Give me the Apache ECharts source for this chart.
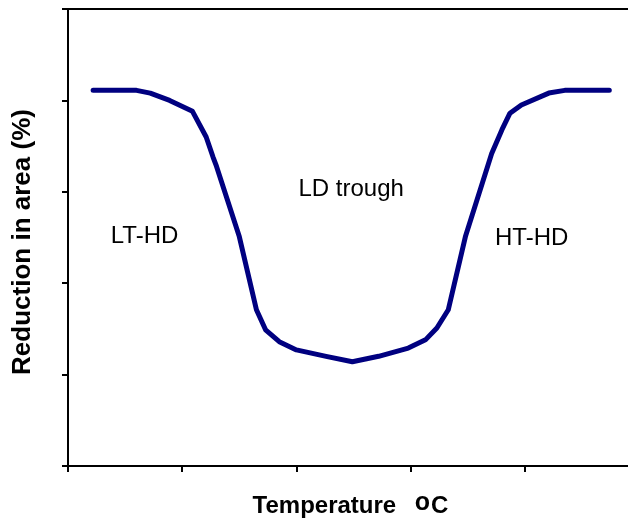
<!DOCTYPE html>
<html>
<head>
<meta charset="utf-8">
<script src="https://cdn.jsdelivr.net/npm/echarts@6/dist/echarts.min.js"></script>
<style>
  html, body { margin: 0; padding: 0; background: #fff; }
  #chart { width: 628px; height: 523px; }
</style>
</head>
<body>
<div id="chart"></div>
<script>
// Reduction in area versus temperature: ductility curve with a low-ductility trough
const temperature = [0.22, 0.60, 0.72, 0.89, 1.09, 1.21, 1.27, 1.30, 1.50, 1.65, 1.73, 1.85, 2.00, 2.26, 2.49,
                     2.72, 2.98, 3.13, 3.23, 3.33, 3.48, 3.71, 3.80, 3.87, 3.97, 4.21, 4.35, 4.74];
const reduction   = [4.11, 4.11, 4.08, 4.00, 3.88, 3.60, 3.38, 3.28, 2.51, 1.71, 1.49, 1.36, 1.27, 1.20, 1.14,
                     1.20, 1.29, 1.38, 1.51, 1.71, 2.51, 3.42, 3.68, 3.86, 3.95, 4.08, 4.11, 4.11];

// Region labels placed in data coordinates
const regionNames = ['LT-HD', 'LD trough', 'HT-HD'];
const regionX = [0.67, 2.48, 4.06];
const regionY = [2.51, 3.03, 2.49];

const FONT = '"Liberation Sans", Arial, Helvetica, sans-serif';

const chart = echarts.init(document.getElementById('chart'), null, { renderer: 'canvas' });

const axisCommon = {
  type: 'value',
  min: 0,
  max: 5,
  interval: 1,
  axisLine: { show: true, onZero: false, lineStyle: { color: '#000', width: 2 } },
  axisTick: { show: true, inside: false, length: 6, lineStyle: { color: '#000', width: 2 } },
  axisLabel: { show: false },
  splitLine: { show: false }
};

chart.setOption({
  animation: false,
  backgroundColor: '#fff',
  // plot area runs past the right edge of the canvas
  grid: {
    left: 68, top: 9, width: 571, bottom: 57,
    outerBoundsMode: 'none',
    containLabel: false,
    show: true, borderColor: '#000', borderWidth: 2, backgroundColor: 'transparent'
  },
  xAxis: Object.assign({}, axisCommon, {
    name: 'Temperature {sup|o}C',
    nameLocation: 'middle',
    nameGap: 25,
    nameTextStyle: {
      fontFamily: FONT, fontSize: 24, fontWeight: 'bold', color: '#000', lineHeight: 30,
      padding: [0, 6, 0, 0],
      rich: {
        sup: { fontFamily: FONT, fontSize: 25, fontWeight: 'bold', color: '#000',
               lineHeight: 20, verticalAlign: 'top', padding: [0, 1, 0, 12] }
      }
    }
  }),
  yAxis: Object.assign({}, axisCommon, {
    name: 'Reduction in area (%)',
    nameLocation: 'middle',
    nameGap: 32,
    nameRotate: 90,
    nameTextStyle: {
      fontFamily: FONT, fontSize: 26, fontWeight: 'bold', color: '#000',
      padding: [0, 9, 0, 0]
    }
  }),
  series: [
    {
      type: 'line',
      data: temperature.map((t, i) => [t, reduction[i]]),
      showSymbol: false,
      smooth: false,
      lineStyle: { color: '#000080', width: 5, cap: 'round', join: 'round' },
      z: 3
    },
    {
      type: 'scatter',
      symbolSize: 0,
      itemStyle: { opacity: 1 },
      data: regionNames.map((n, i) => ({ name: n, value: [regionX[i], regionY[i]] })),
      label: {
        show: true, position: 'inside', formatter: '{b}',
        fontFamily: FONT, fontSize: 24, color: '#000', opacity: 1
      },
      silent: true,
      z: 4
    }
  ]
});
</script>
</body>
</html>
